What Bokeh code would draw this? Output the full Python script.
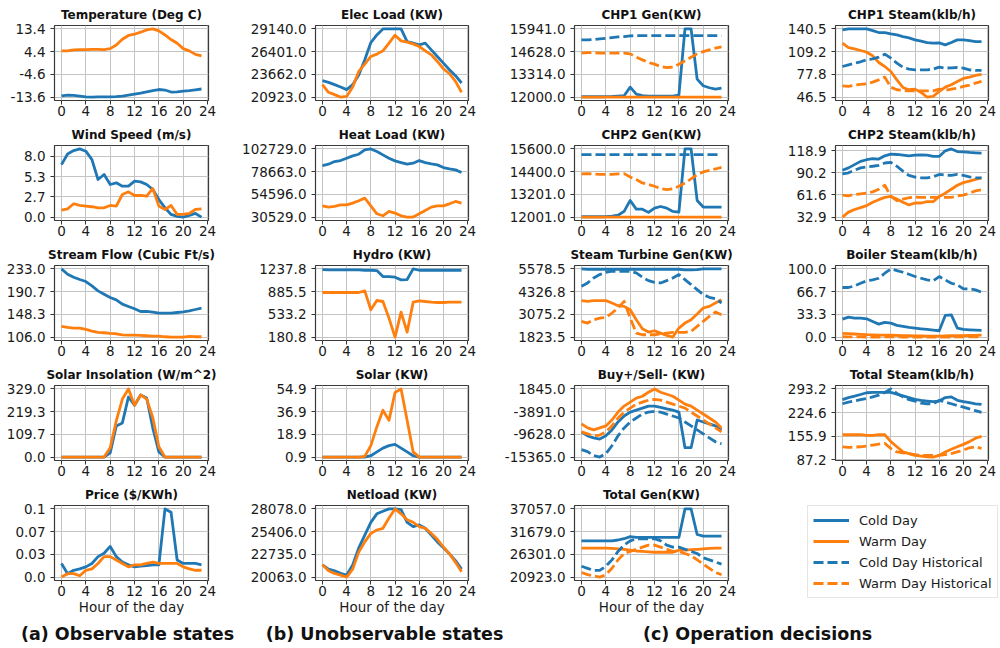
import numpy as np
from bokeh.plotting import figure
from bokeh.layouts import row, column
from bokeh.models import FixedTicker, Range1d, Legend, LegendItem
from bokeh.core.properties import value
from bokeh.embed import file_html
from bokeh.resources import INLINE

hours = list(range(24))
x_ticks = [0, 4, 8, 12, 16, 20, 24]

# ---------------- data ----------------
temp_cold = [-13.1, -12.8, -12.9, -13.2, -13.5, -13.6, -13.5, -13.5, -13.5, -13.4, -13.2, -12.8,
             -12.4, -12.0, -11.5, -11.0, -10.6, -10.8, -11.6, -11.5, -11.2, -11.0, -10.7, -10.4]
temp_warm = [4.7, 4.7, 5.1, 5.2, 5.2, 5.3, 5.3, 5.2, 5.6, 7.0, 9.3, 10.8,
             11.3, 12.1, 13.0, 13.4, 12.6, 11.0, 9.2, 7.7, 5.6, 4.7, 3.3, 2.7]
temp_ticks = ["-13.6", "-4.6", "4.4", "13.4"]

wind_cold = [6.9, 8.3, 8.74, 8.96, 8.66, 7.56, 4.94, 5.6, 4.28, 4.5, 4.06, 4.06,
             4.72, 4.63, 4.28, 3.63, 2.3, 1.22, 0.35, 0.09, 0.0, 0.22, 0.48, 0.0]
wind_warm = [0.92, 1.09, 1.75, 1.53, 1.44, 1.36, 1.22, 1.22, 1.53, 1.44, 2.97, 3.32,
             2.84, 2.84, 2.75, 3.76, 1.44, 1.0, 1.53, 0.35, 0.35, 0.48, 1.0, 1.09]
wind_ticks = ["0.0", "2.7", "5.3", "8.0"]

flow_cold = [233.0, 223.1, 217.5, 213.2, 209.5, 201.4, 192.1, 185.9, 179.7, 175.4, 167.3, 163.0,
             158.7, 153.7, 153.7, 152.5, 150.6, 150.6, 150.6, 151.8, 153.1, 154.9, 157.4, 159.9]
flow_warm = [125.8, 124.0, 122.7, 122.7, 120.3, 117.2, 114.7, 114.1, 112.8, 112.2, 110.3, 109.7,
             109.7, 109.1, 108.5, 107.9, 107.9, 106.6, 106.0, 106.0, 106.0, 107.2, 106.6, 106.6]
flow_ticks = ["106.0", "148.3", "190.7", "233.0"]

ins_cold = [0, 0, 0, 0, 0, 0, 0, 0, 20, 150, 165, 290, 250, 300, 285, 140, 25, 0, 0, 0, 0, 0, 0, 0]
ins_warm = [0, 0, 0, 0, 0, 0, 0, 0, 45, 175, 280, 329, 250, 300, 280, 190, 50, 0, 0, 0, 0, 0, 0, 0]
ins_ticks = ["0.0", "109.7", "219.3", "329.0"]

price_cold = [0.02, 0.005, 0.01, 0.012, 0.015, 0.02, 0.03, 0.035, 0.045, 0.03, 0.022, 0.018,
              0.015, 0.016, 0.017, 0.018, 0.018, 0.1, 0.095, 0.025, 0.02, 0.02, 0.02, 0.018]
price_warm = [0.0, 0.005, 0.005, 0.002, 0.01, 0.012, 0.02, 0.03, 0.03, 0.025, 0.02, 0.015,
              0.018, 0.018, 0.02, 0.022, 0.02, 0.02, 0.02, 0.02, 0.015, 0.012, 0.01, 0.01]
price_ticks = ["0.0", "0.03", "0.07", "0.1"]

elec_cold = [22900, 22700, 22420, 22140, 21820, 22420, 23580, 25420, 27500, 28420, 29140, 29140,
             29140, 29140, 27620, 27420, 27220, 27420, 26620, 25820, 25020, 24220, 23500, 22620]
elec_warm = [22420, 21500, 21220, 20923, 21000, 22140, 24020, 24900, 25820, 26100, 26500, 27420,
             28380, 27700, 27540, 27340, 27020, 26500, 26020, 25220, 24340, 23740, 22820, 21500]
elec_ticks = ["20923.0", "23662.0", "26401.0", "29140.0"]

heat_cold = [85114, 86523, 89342, 90399, 92865, 95331, 97093, 101672, 102729, 99911, 96388, 92865,
             90046, 88285, 86523, 87580, 90399, 88285, 86876, 85819, 83000, 81590, 80534, 77715]
heat_warm = [42486, 41077, 41782, 43543, 43543, 45305, 47771, 50589, 42486, 34032, 31918, 36498,
             34736, 31918, 30529, 30529, 34032, 37555, 41077, 42486, 42486, 44600, 47066, 45305]
heat_ticks = ["30529.0", "54596.0", "78663.0", "102729.0"]

hydro_cold = [1227.5, 1222, 1222, 1222, 1222, 1222, 1222, 1217, 1217, 1212, 1119, 1119,
              1109, 1068, 1073, 1237.8, 1217, 1217, 1217, 1217, 1217, 1217, 1217, 1217]
hydro_warm = [871.7, 871.7, 871.7, 871.7, 871.7, 871.7, 871.7, 897.5, 603.6, 748.0, 732.5, 474.7,
              180.8, 567.5, 258.0, 722.0, 742.8, 732.5, 722.0, 717.0, 717.0, 722.0, 722.0, 722.0]
hydro_ticks = ["180.8", "533.2", "885.5", "1237.8"]

solar_cold = [0.9, 0.9, 0.9, 0.9, 0.9, 0.9, 0.9, 0.9, 2, 5, 8, 10, 11, 8, 5, 2, 0.9, 0.9, 0.9, 0.9, 0.9, 0.9, 0.9, 0.9]
solar_warm = [0.9, 0.9, 0.9, 0.9, 0.9, 0.9, 0.9, 1.5, 10, 25, 38, 30, 52, 54.9, 30, 5, 0.9, 0.9, 0.9, 0.9, 0.9, 0.9, 0.9, 0.9]
solar_ticks = ["0.9", "18.9", "36.9", "54.9"]

net_cold = [21500, 21000, 20800, 20500, 20300, 21500, 23500, 25000, 26500, 27500, 27800, 28078,
            28078, 28000, 26500, 26000, 26200, 25800, 25000, 24200, 23500, 22800, 22000, 21000]
net_warm = [21500, 20800, 20500, 20300, 20063, 21000, 23000, 24200, 25200, 25600, 25800, 27000,
            28078, 27500, 26800, 26500, 26000, 25800, 25200, 24500, 23600, 22800, 21800, 20700]
net_ticks = ["20063.0", "22735.0", "25406.0", "28078.0"]

chp1_cold = [12020, 12020, 12020, 12020, 12030, 12040, 12060, 12080, 12577, 12170, 12080, 12060,
             12060, 12060, 12060, 12060, 12115, 15941, 15941, 13038, 12654, 12540, 12460, 12520]
chp1_warm = [12000, 12000, 12000, 12000, 12000, 12000, 12000, 12000, 12000, 12000, 12000, 12000,
             12000, 12000, 12000, 12000, 12000, 12000, 12000, 12000, 12000, 12000, 12000, 12000]
chp1_cold_hist = [15306, 15306, 15325, 15364, 15402, 15441, 15480, 15499, 15537, 15556, 15556, 15556,
                  15556, 15556, 15556, 15556, 15556, 15556, 15556, 15556, 15556, 15556, 15556, 15556]
chp1_warm_hist = [14537, 14575, 14575, 14537, 14537, 14537, 14537, 14537, 14499, 14307, 14153, 14000,
                  13903, 13768, 13710, 13729, 13903, 14095, 14307, 14499, 14633, 14730, 14826, 14903]
chp1_ticks = ["12000.0", "13314.0", "14628.0", "15941.0"]

chp2_cold = [12020, 12020, 12020, 12020, 12030, 12050, 12100, 12300, 12880, 12420, 12420, 12250,
             12475, 12560, 12475, 12300, 12265, 15600, 15600, 12880, 12530, 12530, 12530, 12530]
chp2_warm = [12001, 12001, 12001, 12001, 12001, 12001, 12001, 12001, 12001, 12001, 12001, 12001,
             12001, 12001, 12001, 12001, 12001, 12001, 12001, 12001, 12001, 12001, 12001, 12001]
chp2_cold_hist = [15300, 15300, 15300, 15300, 15300, 15300, 15300, 15300, 15300, 15300, 15300, 15300,
                  15300, 15300, 15300, 15300, 15300, 15300, 15300, 15300, 15300, 15300, 15300, 15300]
chp2_warm_hist = [14277, 14295, 14277, 14260, 14260, 14260, 14277, 14295, 14120, 13980, 13805, 13717,
                  13630, 13507, 13454, 13490, 13630, 13805, 14015, 14242, 14383, 14471, 14540, 14628]
chp2_ticks = ["12001.0", "13201.0", "14400.0", "15600.0"]

st_cold = [5578.5, 5560, 5560, 5560, 5560, 5560, 5560, 5560, 5560, 5560, 5560, 5560,
           5560, 5560, 5560, 5560, 5560, 5523, 5523, 5541, 5578, 5578, 5578, 5578]
st_warm = [3830, 3793, 3830, 3830, 3830, 3701, 3553, 3516, 3332, 2780, 2283, 2099,
           2173, 2044, 1915, 1823.5, 2320, 2596, 2780, 3093, 3425, 3516, 3701, 3885]
st_cold_hist = [4621, 4805, 5081, 5265, 5394, 5450, 5450, 5450, 5450, 5358, 5118, 4934,
                4842, 4805, 4934, 5081, 5265, 4989, 4713, 4437, 4161, 4014, 3940, 3701]
st_warm_hist = [2688, 2596, 2780, 2872, 2909, 3149, 3425, 3793, 2872, 2044, 1952, 1952,
                1952, 2007, 2044, 2081, 2081, 2081, 2136, 2412, 2688, 2964, 3204, 3057]
st_ticks = ["1823.5", "3075.2", "4326.8", "5578.5"]

buy_cold = [-9000, -10000, -10500, -10800, -10000, -8500, -6500, -5000, -4000, -3500, -3000, -2500,
            -2500, -2800, -3200, -3500, -4000, -13000, -13000, -6000, -6500, -7000, -7500, -8500]
buy_warm = [-7000, -8000, -8500, -8000, -7500, -6000, -4000, -2500, -1500, -500, 0, 1000,
            1845, 1000, 500, 0, -1000, -2000, -2500, -3500, -4500, -5500, -6500, -8000]
buy_cold_hist = [-13500, -14000, -15000, -15365, -14500, -12500, -10000, -8000, -6500, -5500, -4500, -4000,
                 -3800, -4000, -4500, -5000, -5500, -6500, -7500, -8500, -9500, -10500, -11500, -12000]
buy_warm_hist = [-9000, -9500, -10000, -9800, -9000, -7500, -5500, -4000, -3000, -2000, -1500, -1000,
                 -800, -1000, -1500, -2000, -2500, -3000, -4000, -5000, -6000, -7000, -8000, -9000]
buy_ticks = ["-15365.0", "-9628.0", "-3891.0", "1845.0"]

gen_cold = [29500, 29500, 29500, 29500, 29500, 29500, 29700, 30000, 30500, 30300, 30300, 30300,
            30300, 30300, 30300, 30300, 30300, 37057, 37057, 31000, 30600, 30600, 30600, 30600]
gen_warm = [27800, 27800, 27800, 27800, 27800, 27700, 27600, 27500, 27300, 27100, 27000, 26900,
            26800, 26800, 26800, 26800, 27300, 27300, 27400, 27500, 27600, 27700, 27800, 27800]
gen_cold_hist = [23500, 23000, 22500, 22500, 23500, 25000, 27000, 28500, 29500, 30000, 30000, 30000,
                 30000, 29500, 28500, 28000, 28000, 27500, 27000, 26500, 25500, 25000, 24500, 24000]
gen_warm_hist = [22000, 21500, 21200, 20923, 21500, 23000, 25000, 26500, 27000, 27500, 28000, 28500,
                 28500, 28000, 27500, 27000, 27000, 26500, 26000, 25000, 24000, 23000, 22000, 21500]
gen_ticks = ["20923.0", "26301.0", "31679.0", "37057.0"]

chp1s_cold = [139.1, 140.5, 140.5, 140.5, 140.5, 138.2, 135.5, 135.5, 133.6, 132.2, 130.0, 128.1,
              125.4, 123.5, 121.7, 120.8, 121.2, 118.5, 121.7, 125.4, 125.4, 124.4, 123.1, 123.1]
chp1s_warm = [120.8, 114.8, 113.0, 110.7, 108.4, 103.4, 94.2, 88.7, 81.8, 70.3, 59.8, 56.6,
              57.5, 52.9, 46.5, 47.4, 54.3, 60.2, 63.5, 68.1, 72.2, 74.0, 76.3, 77.8]
chp1s_cold_hist = [88.7, 91.0, 93.3, 95.2, 97.9, 99.3, 101.6, 105.7, 100.2, 93.3, 87.8, 85.0,
                   84.1, 84.1, 84.1, 85.0, 87.8, 86.4, 86.9, 87.3, 86.4, 84.1, 83.2, 83.2]
chp1s_warm_hist = [62.1, 61.2, 63.0, 63.9, 64.8, 67.1, 70.3, 74.0, 60.2, 56.6, 55.7, 55.2,
                   55.2, 55.2, 55.2, 55.2, 57.5, 55.7, 57.5, 58.9, 61.2, 63.0, 65.8, 68.1]
chp1s_ticks = ["46.5", "77.8", "109.2", "140.5"]

chp2s_cold = [93.5, 96.5, 100.7, 104.9, 107.0, 108.3, 107.9, 112.1, 114.2, 113.8, 113.0, 112.1,
              113.0, 113.4, 113.0, 111.3, 111.3, 118.5, 121.0, 117.6, 117.2, 116.4, 115.9, 115.5]
chp2s_warm = [32.9, 39.3, 42.7, 45.2, 47.7, 52.0, 55.4, 58.3, 59.6, 56.2, 52.0, 48.6,
              51.1, 51.1, 52.8, 52.8, 59.6, 63.8, 68.9, 74.0, 77.4, 79.5, 81.6, 83.7]
chp2s_cold_hist = [88.8, 90.1, 93.5, 96.5, 97.7, 98.6, 99.8, 102.8, 103.6, 98.6, 92.2, 86.7,
                   84.6, 83.7, 83.7, 85.0, 88.0, 87.1, 86.7, 88.0, 86.7, 85.0, 83.7, 83.7]
chp2s_warm_hist = [61.3, 60.4, 62.1, 63.0, 63.8, 65.5, 68.9, 74.0, 59.6, 54.1, 56.2, 57.9,
                   58.7, 58.3, 58.3, 58.3, 58.3, 58.3, 58.3, 60.4, 61.3, 63.8, 66.8, 68.1]
chp2s_ticks = ["32.9", "61.6", "90.2", "118.9"]

boil_cold = [26.3, 29.3, 27.8, 27.8, 26.8, 22.9, 19.0, 21.5, 20.5, 17.1, 15.6, 14.1,
             13.2, 12.2, 11.2, 10.2, 9.3, 31.7, 32.7, 13.2, 11.2, 10.7, 10.2, 9.8]
boil_warm = [5.5, 5.0, 4.5, 4.0, 3.5, 3.2, 3.0, 3.0, 2.8, 2.5, 2.2, 2.0,
             1.8, 1.6, 1.5, 1.4, 1.5, 1.8, 2.0, 2.0, 2.2, 2.3, 2.5, 2.8]
boil_cold_hist = [72.7, 72.7, 75.1, 79.0, 82.4, 83.9, 86.3, 93.7, 100.0, 97.6, 95.1, 92.2,
                  88.8, 86.3, 83.9, 82.4, 88.8, 83.9, 79.0, 76.6, 70.7, 70.7, 69.3, 65.9]
boil_warm_hist = [0.5, 0.4, 0.3, 0.2, 0.1, 0.0, 0.0, 0.2, 0.5, 0.3, 0.0, 0.0,
                  0.0, 0.0, 0.0, 0.0, 0.0, 0.0, 0.0, 0.2, 0.3, 0.4, 0.5, 0.5]
boil_ticks = ["0.0", "33.3", "66.7", "100.0"]

tsteam_cold = [262, 268, 272, 277, 282, 283, 283, 283, 283, 278, 273, 268,
               263, 260, 258, 256, 258, 268, 270, 260, 256, 253, 250, 248]
tsteam_warm = [160, 160, 160, 160, 158, 158, 160, 160, 140, 125, 110, 105,
               100, 98, 96, 95, 100, 110, 118, 125, 132, 140, 150, 155]
tsteam_cold_hist = [250, 255, 258, 262, 265, 270, 275, 283, 293.2, 280, 270, 262,
                    258, 252, 250, 250, 260, 255, 250, 245, 240, 235, 230, 225]
tsteam_warm_hist = [125, 123, 124, 125, 127, 130, 133, 135, 120, 110, 107, 105,
                    102, 100, 100, 100, 100, 102, 105, 110, 115, 122, 125, 120]
tsteam_ticks = ["87.2", "155.9", "224.6", "293.2"]

legend_labels = ["Cold Day", "Warm Day", "Cold Day Historical", "Warm Day Historical"]
captions = ["(a) Observable states", "(b) Unobservable states", "(c) Operation decisions"]
caption_centers = [127, 384, 757]

# ---------------- styling / layout ----------------
BLUE = "#1f77b4"
ORANGE = "#ff7f0e"
FONT = "DejaVu Sans"
COLS = [dict(width=232, left=54, right=24),
        dict(width=263, left=83, right=27),
        dict(width=270, left=79, right=37),
        dict(width=233, left=70, right=10)]
FRAME_H = 75
ROW_TOP = [25, 23, 23, 23, 23]
ROW_BOT = [22, 22, 22, 22, 40]
CAP_H = 26

STYLES = {"cold": (BLUE, "solid"), "warm": (ORANGE, "solid"),
          "cold_hist": (BLUE, "10 4"), "warm_hist": (ORANGE, "10 4")}


def panel(col, r, title, series, tick_labels):
    c = COLS[col]
    last = r == 4
    allv = np.concatenate([np.asarray(v, dtype=float) for _, v in series])
    lo, hi = float(allv.min()), float(allv.max())
    pad = 0.05 * (hi - lo)
    p = figure(width=c["width"], height=ROW_TOP[r] + FRAME_H + ROW_BOT[r],
               output_backend="svg", toolbar_location=None,
               x_range=Range1d(-1.15, 24.15), y_range=Range1d(lo - pad, hi + pad),
               min_border_left=c["left"], min_border_right=c["right"],
               min_border_top=ROW_TOP[r], min_border_bottom=ROW_BOT[r],
               title=title)
    for key, vals in series:
        color, dash = STYLES[key]
        p.line(hours, vals, line_color=color, line_width=2.8, line_dash=dash,
               line_join="round")
    t0, t1 = float(tick_labels[0]), float(tick_labels[-1])
    tpos = [float(v) for v in np.linspace(t0, t1, len(tick_labels))]
    p.yaxis.ticker = FixedTicker(ticks=tpos)
    p.yaxis.major_label_overrides = {tp: lab for tp, lab in zip(tpos, tick_labels)}
    p.xaxis.ticker = FixedTicker(ticks=x_ticks)
    for ax in (p.xaxis[0], p.yaxis[0]):
        ax.axis_line_color = None
        ax.major_tick_in = 0
        ax.major_tick_out = 4
        ax.major_tick_line_color = "#333333"
        ax.minor_tick_line_color = None
        ax.major_label_text_font = FONT
        ax.major_label_text_font_size = "13.5px"
        ax.major_label_text_color = "#1a1a1a"
    p.xaxis.major_label_standoff = 1
    p.yaxis.major_label_standoff = 5
    if last:
        p.xaxis.axis_label = "Hour of the day"
        p.xaxis.axis_label_text_font = FONT
        p.xaxis.axis_label_text_font_size = "13.5px"
        p.xaxis.axis_label_text_font_style = "normal"
        p.xaxis.axis_label_text_color = "#1a1a1a"
        p.xaxis.axis_label_standoff = 0
    p.grid.grid_line_color = "#c4c4c4"
    p.grid.grid_line_width = 1
    p.outline_line_color = "#3a3a3a"
    p.outline_line_width = 1.2
    p.title.text_font = FONT
    p.title.text_font_size = "12px"
    p.title.text_font_style = "bold"
    p.title.align = "center"
    p.title.standoff = 7
    p.title.text_color = "#111111"
    return p


col1 = column(
    panel(0, 0, "Temperature (Deg C)", [("cold", temp_cold), ("warm", temp_warm)], temp_ticks),
    panel(0, 1, "Wind Speed (m/s)", [("cold", wind_cold), ("warm", wind_warm)], wind_ticks),
    panel(0, 2, "Stream Flow (Cubic Ft/s)", [("cold", flow_cold), ("warm", flow_warm)], flow_ticks),
    panel(0, 3, "Solar Insolation (W/m^2)", [("cold", ins_cold), ("warm", ins_warm)], ins_ticks),
    panel(0, 4, "Price ($/KWh)", [("cold", price_cold), ("warm", price_warm)], price_ticks),
)
col2 = column(
    panel(1, 0, "Elec Load (KW)", [("cold", elec_cold), ("warm", elec_warm)], elec_ticks),
    panel(1, 1, "Heat Load (KW)", [("cold", heat_cold), ("warm", heat_warm)], heat_ticks),
    panel(1, 2, "Hydro (KW)", [("cold", hydro_cold), ("warm", hydro_warm)], hydro_ticks),
    panel(1, 3, "Solar (KW)", [("cold", solar_cold), ("warm", solar_warm)], solar_ticks),
    panel(1, 4, "Netload (KW)", [("cold", net_cold), ("warm", net_warm)], net_ticks),
)
col3 = column(
    panel(2, 0, "CHP1 Gen(KW)", [("cold", chp1_cold), ("warm", chp1_warm),
                                 ("cold_hist", chp1_cold_hist), ("warm_hist", chp1_warm_hist)], chp1_ticks),
    panel(2, 1, "CHP2 Gen(KW)", [("cold", chp2_cold), ("warm", chp2_warm),
                                 ("cold_hist", chp2_cold_hist), ("warm_hist", chp2_warm_hist)], chp2_ticks),
    panel(2, 2, "Steam Turbine Gen(KW)", [("cold", st_cold), ("warm", st_warm),
                                          ("cold_hist", st_cold_hist), ("warm_hist", st_warm_hist)], st_ticks),
    panel(2, 3, "Buy+/Sell- (KW)", [("cold", buy_cold), ("warm", buy_warm),
                                    ("cold_hist", buy_cold_hist), ("warm_hist", buy_warm_hist)], buy_ticks),
    panel(2, 4, "Total Gen(KW)", [("cold", gen_cold), ("warm", gen_warm),
                                  ("cold_hist", gen_cold_hist), ("warm_hist", gen_warm_hist)], gen_ticks),
)

# legend cell: its frame spans the whole legend box (legends are clipped to the frame)
LG_LEFT, LG_RIGHT = 42, 0
lg_h = ROW_TOP[4] + FRAME_H + ROW_BOT[4]
lg = figure(width=COLS[3]["width"], height=lg_h, output_backend="svg", toolbar_location=None,
            x_range=Range1d(-1.15, 24.15), y_range=Range1d(0, 1),
            min_border_left=LG_LEFT, min_border_right=LG_RIGHT,
            min_border_top=0, min_border_bottom=0,
            x_axis_location=None, y_axis_location=None)
lg.grid.visible = False
lg.outline_line_color = None
items = []
for lab, key, vals in zip(legend_labels, ["cold", "warm", "cold_hist", "warm_hist"],
                          [gen_cold, gen_warm, gen_cold_hist, gen_warm_hist]):
    color, dash = STYLES[key]
    r = lg.line(hours, vals, line_color=color, line_width=2.8, line_dash=dash)
    r.visible = False
    items.append(LegendItem(label=value(lab), renderers=[r]))
leg = Legend(items=items, location=(0, 22), label_text_font=FONT, label_text_font_size="13px",
             label_text_color="#1a1a1a",
             glyph_width=36, glyph_height=18, label_height=18, label_standoff=10,
             spacing=3, padding=5, margin=0, border_line_color="#cccccc",
             border_line_width=1, background_fill_alpha=0.8, click_policy="none")
lg.add_layout(leg)

col4 = column(
    panel(3, 0, "CHP1 Steam(klb/h)", [("cold", chp1s_cold), ("warm", chp1s_warm),
                                      ("cold_hist", chp1s_cold_hist), ("warm_hist", chp1s_warm_hist)], chp1s_ticks),
    panel(3, 1, "CHP2 Steam(klb/h)", [("cold", chp2s_cold), ("warm", chp2s_warm),
                                      ("cold_hist", chp2s_cold_hist), ("warm_hist", chp2s_warm_hist)], chp2s_ticks),
    panel(3, 2, "Boiler Steam(klb/h)", [("cold", boil_cold), ("warm", boil_warm),
                                        ("cold_hist", boil_cold_hist), ("warm_hist", boil_warm_hist)], boil_ticks),
    panel(3, 3, "Total Steam(klb/h)", [("cold", tsteam_cold), ("warm", tsteam_warm),
                                       ("cold_hist", tsteam_cold_hist), ("warm_hist", tsteam_warm_hist)], tsteam_ticks),
    row(lg),
)

total_w = sum(c["width"] for c in COLS)
cap = figure(width=total_w, height=CAP_H, output_backend="svg", toolbar_location=None,
             x_range=Range1d(0, total_w), y_range=Range1d(0, 1), min_border=0,
             x_axis_location=None, y_axis_location=None)
cap.grid.visible = False
cap.outline_line_color = None
cap.text(x=caption_centers, y=[0.5, 0.5, 0.5], text=captions,
         text_align="center", text_baseline="middle",
         text_font=value(FONT), text_font_style="bold", text_font_size="17.5px",
         text_color="#111111")

layout = column(row(col1, col2, col3, col4), cap)
open("out.html", "w").write(file_html(layout, INLINE))
